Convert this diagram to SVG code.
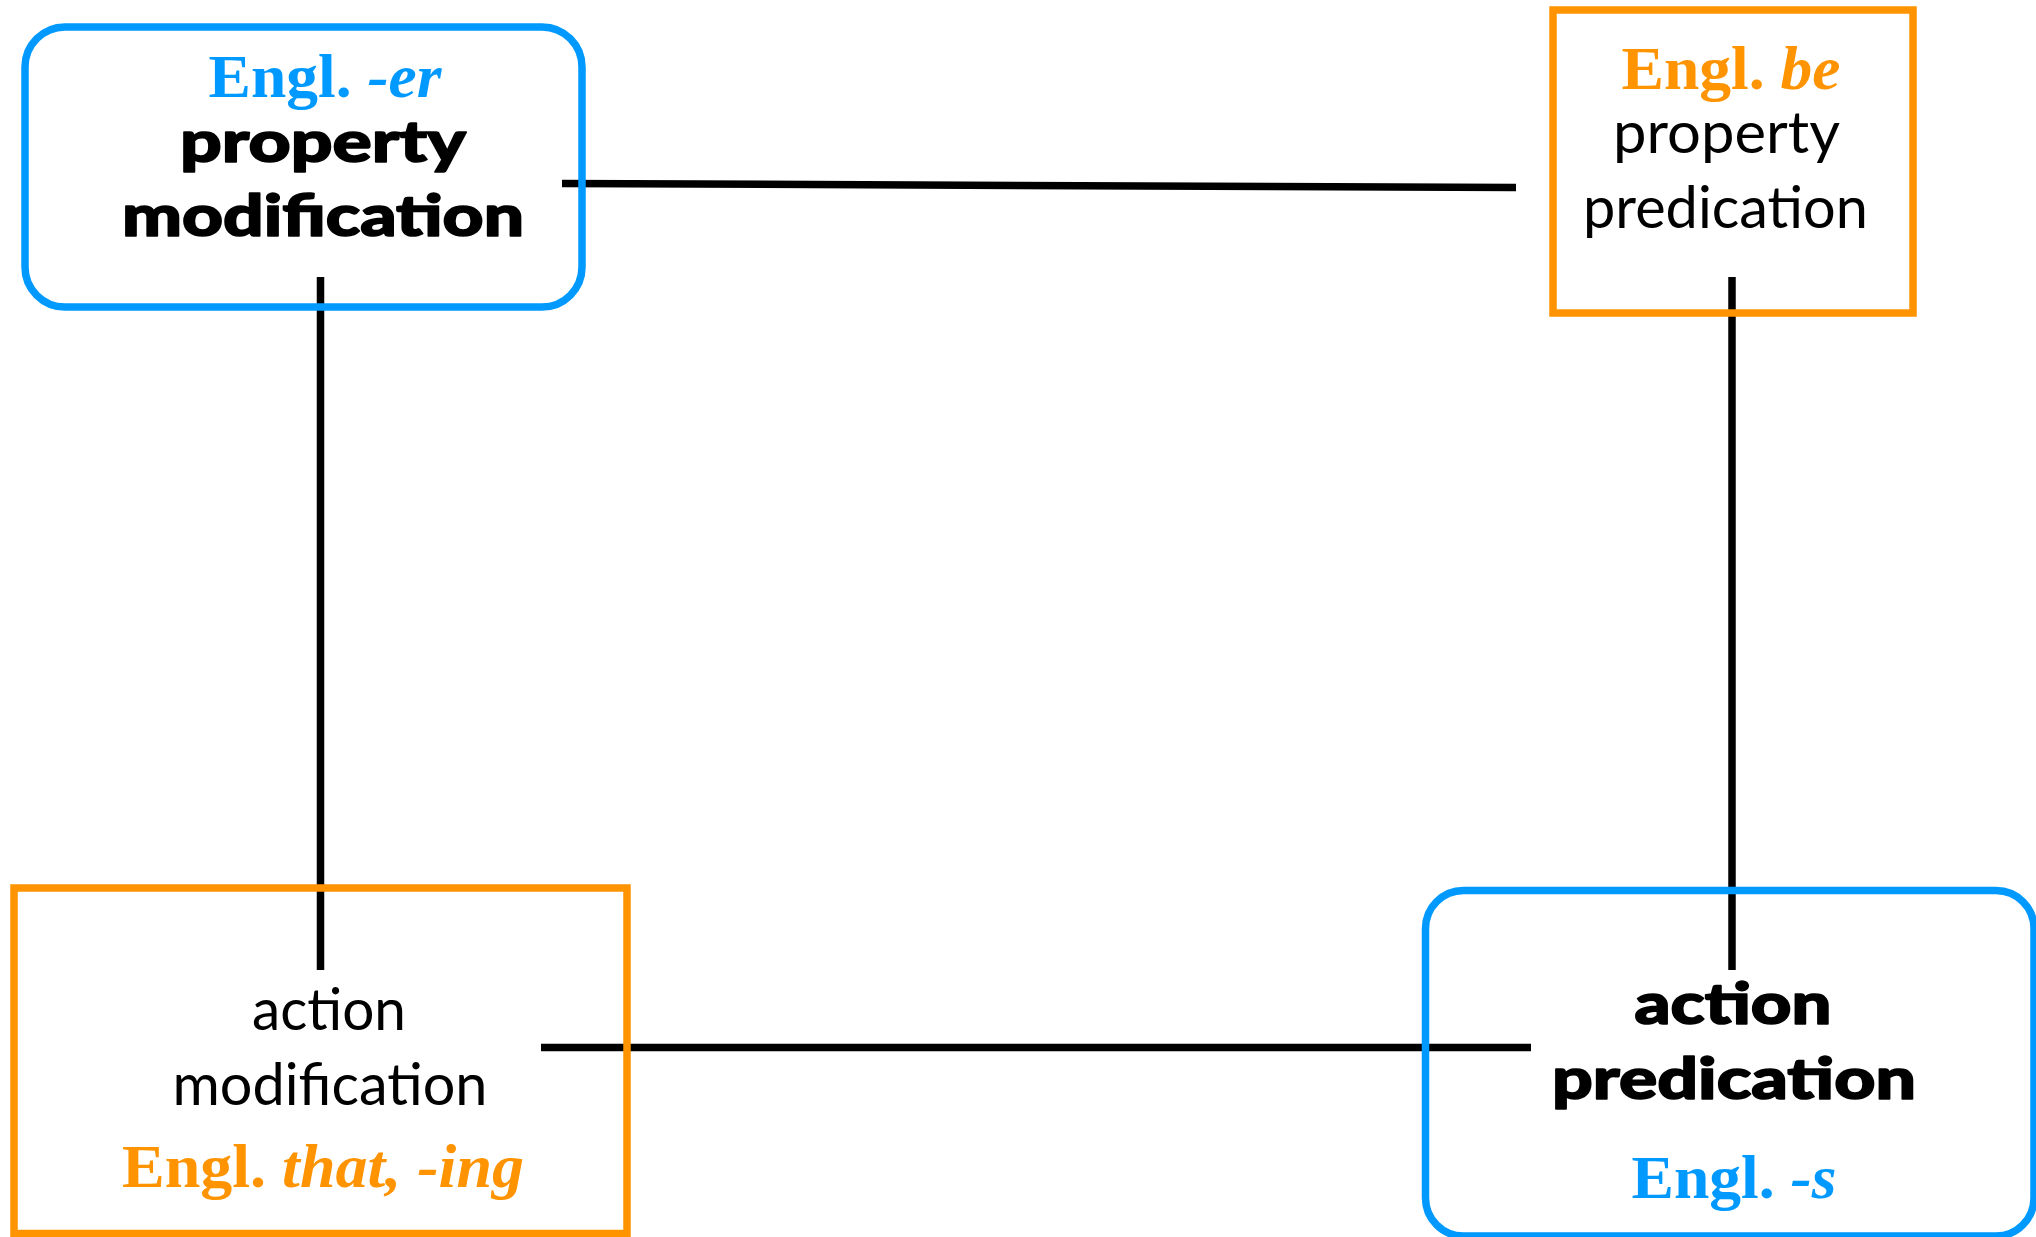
<svg xmlns="http://www.w3.org/2000/svg" width="2036" height="1237" viewBox="0 0 2036 1237">
  <style>
    .link { stroke: #000000; stroke-width: 7.5; fill: none; stroke-linecap: butt; }
    .blue-box { fill: none; stroke: #0099FF; stroke-width: 7.5; }
    .orange-box { fill: none; stroke: #FF9300; stroke-width: 7.5; }
    .sans { font-family: Lato, "Open Sans", "DejaVu Sans", sans-serif; font-size: 58px; fill: #000000; text-anchor: middle; }
    .sans-bold { font-family: Lato, "Open Sans", "DejaVu Sans", sans-serif; font-size: 58px; font-weight: 900; fill: #000000; stroke: #000000; stroke-width: 1.6; stroke-linejoin: round; text-anchor: middle; }
    .serif { font-family: "Liberation Serif", "Times New Roman", serif; font-size: 62px; font-weight: 700; text-anchor: middle; }
    .blue { fill: #0099FF; }
    .orange { fill: #FF9300; }
    .it { font-style: italic; }
  </style>

  <rect width="2036" height="1237" fill="#FFFFFF"/>

  <!-- connectors (drawn beneath the box outlines) -->
  <g id="connectors">
    <line class="link" x1="562" y1="183.5" x2="1516" y2="187.5"/>
    <line class="link" x1="320.5" y1="277" x2="320.5" y2="970"/>
    <line class="link" x1="1732" y1="277" x2="1732" y2="970"/>
    <line class="link" x1="541" y1="1047.5" x2="1531" y2="1047.5"/>
  </g>

  <!-- property modification -->
  <g id="property-modification">
    <rect class="blue-box" x="25" y="27" width="557" height="280" rx="40" ry="40"/>
    <text class="serif blue" x="325" y="97" textLength="233" lengthAdjust="spacingAndGlyphs">Engl. <tspan class="it">-er</tspan></text>
    <text class="sans-bold" x="323" y="162" textLength="286" lengthAdjust="spacingAndGlyphs">property</text>
    <text class="sans-bold" x="323" y="236" textLength="402" lengthAdjust="spacingAndGlyphs">modification</text>
  </g>

  <!-- property predication -->
  <g id="property-predication">
    <rect class="orange-box" x="1553" y="10" width="360" height="303"/>
    <text class="serif orange" x="1731" y="89" textLength="219" lengthAdjust="spacingAndGlyphs">Engl. <tspan class="it">be</tspan></text>
    <text class="sans" x="1726.5" y="153" textLength="227" lengthAdjust="spacingAndGlyphs">property</text>
    <text class="sans" x="1725.5" y="228" textLength="285" lengthAdjust="spacingAndGlyphs">predication</text>
  </g>

  <!-- action modification -->
  <g id="action-modification">
    <rect class="orange-box" x="14" y="888" width="613" height="345.5"/>
    <text class="sans" x="329" y="1030" textLength="154" lengthAdjust="spacingAndGlyphs">action</text>
    <text class="sans" x="330" y="1105" textLength="315" lengthAdjust="spacingAndGlyphs">modification</text>
    <text class="serif orange" x="323" y="1187" textLength="402" lengthAdjust="spacingAndGlyphs">Engl. <tspan class="it">that, -ing</tspan></text>
  </g>

  <!-- action predication -->
  <g id="action-predication">
    <rect class="blue-box" x="1425.5" y="890.5" width="608.5" height="345.5" rx="38" ry="38"/>
    <text class="sans-bold" x="1733" y="1024" textLength="197" lengthAdjust="spacingAndGlyphs">action</text>
    <text class="sans-bold" x="1734" y="1099" textLength="364" lengthAdjust="spacingAndGlyphs">predication</text>
    <text class="serif blue" x="1734" y="1198" textLength="205" lengthAdjust="spacingAndGlyphs">Engl. <tspan class="it">-s</tspan></text>
  </g>
</svg>
